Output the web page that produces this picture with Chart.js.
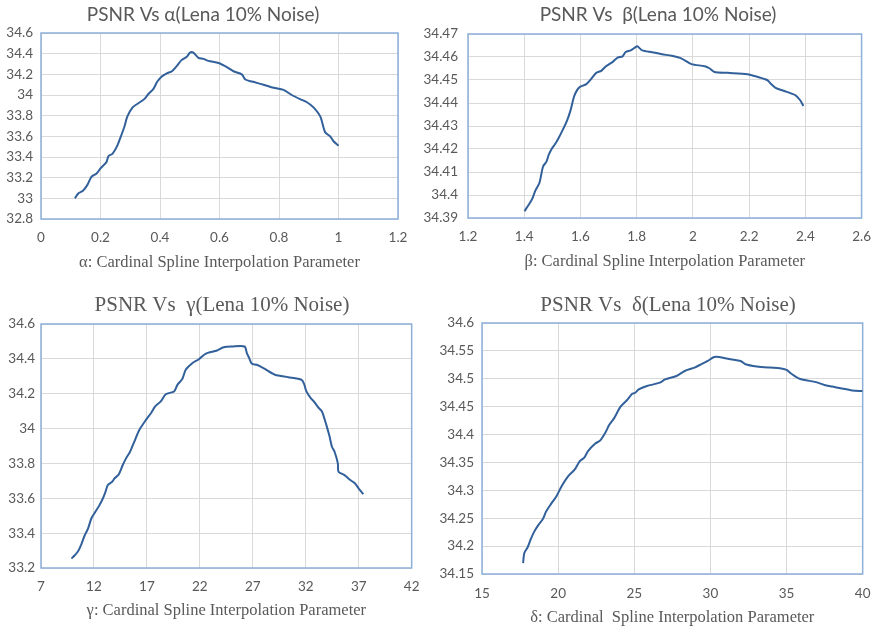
<!DOCTYPE html>
<html>
<head>
<meta charset="utf-8">
<script src="https://cdn.jsdelivr.net/npm/chart.js@4.4.1/dist/chart.umd.min.js"></script>
<style>
  html, body { margin: 0; padding: 0; background: #ffffff; }
  body { width: 882px; height: 633px; position: relative; overflow: hidden; }
  .box { position: absolute; }
</style>
</head>
<body>
<div class="box" style="left:0px;top:0px;width:420px;height:276px"><canvas id="alphaChart"></canvas></div>
<div class="box" style="left:405px;top:0px;width:477px;height:275px"><canvas id="betaChart"></canvas></div>
<div class="box" style="left:0px;top:288px;width:430px;height:336px"><canvas id="gammaChart"></canvas></div>
<div class="box" style="left:436px;top:288px;width:446px;height:343px"><canvas id="deltaChart"></canvas></div>
<script>
// --- data (PSNR, Lena, 10% noise) ---
const alphaValues = [0.114, 0.126, 0.14, 0.156, 0.17, 0.187, 0.2, 0.22, 0.227, 0.24, 0.255, 0.266, 0.28, 0.29, 0.308, 0.327, 0.347, 0.361, 0.378, 0.391, 0.406, 0.423, 0.44, 0.456, 0.473, 0.49, 0.501, 0.512, 0.529, 0.546, 0.563, 0.597, 0.625, 0.647, 0.675, 0.687, 0.709, 0.748, 0.782, 0.815, 0.843, 0.871, 0.894, 0.916, 0.939, 0.955, 0.972, 0.984, 1.0];
const alphaPsnr = [33.0, 33.05, 33.07, 33.13, 33.21, 33.24, 33.29, 33.35, 33.41, 33.43, 33.5, 33.58, 33.69, 33.79, 33.88, 33.92, 33.96, 34.01, 34.06, 34.13, 34.18, 34.21, 34.23, 34.28, 34.34, 34.37, 34.41, 34.41, 34.36, 34.35, 34.33, 34.31, 34.27, 34.23, 34.2, 34.15, 34.13, 34.1, 34.07, 34.05, 34.0, 33.96, 33.93, 33.88, 33.79, 33.64, 33.6, 33.55, 33.51];

const betaValues = [1.401, 1.408, 1.416, 1.428, 1.44, 1.454, 1.467, 1.479, 1.487, 1.499, 1.51, 1.522, 1.537, 1.553, 1.565, 1.577, 1.588, 1.598, 1.621, 1.639, 1.656, 1.674, 1.691, 1.715, 1.732, 1.75, 1.761, 1.779, 1.796, 1.802, 1.82, 1.855, 1.89, 1.925, 1.96, 1.995, 2.042, 2.06, 2.077, 2.124, 2.194, 2.229, 2.264, 2.276, 2.294, 2.323, 2.364, 2.381, 2.393];
const betaPsnr = [34.3929, 34.3943, 34.3958, 34.3982, 34.402, 34.4052, 34.4124, 34.4145, 34.4174, 34.4203, 34.4222, 34.4247, 34.4283, 34.4326, 34.4369, 34.4427, 34.4456, 34.447, 34.4482, 34.4506, 34.4531, 34.454, 34.456, 34.4579, 34.4597, 34.4603, 34.4622, 34.4629, 34.4643, 34.4647, 34.4629, 34.4621, 34.4612, 34.4605, 34.4593, 34.4569, 34.456, 34.455, 34.4535, 34.4531, 34.4525, 34.4514, 34.45, 34.4485, 34.4466, 34.4453, 34.4434, 34.4413, 34.4387];

const gammaValues = [9.88, 10.19, 10.5, 10.81, 11.13, 11.44, 11.75, 12.06, 12.47, 12.84, 13.09, 13.31, 13.72, 13.94, 14.34, 14.72, 15.03, 15.41, 15.81, 16.28, 16.91, 17.38, 17.78, 18.31, 18.78, 19.56, 19.88, 20.34, 20.66, 21.28, 21.91, 22.53, 23.63, 24.25, 25.03, 26.22, 26.44, 26.66, 26.91, 27.38, 28.0, 29.09, 30.34, 31.59, 31.84, 32.06, 32.47, 32.78, 33.16, 33.53, 33.94, 34.25, 34.47, 34.72, 35.03, 35.09, 35.66, 36.13, 36.66, 37.06, 37.44];
const gammaPsnr = [33.254, 33.273, 33.296, 33.336, 33.388, 33.426, 33.484, 33.516, 33.555, 33.599, 33.637, 33.676, 33.695, 33.714, 33.737, 33.791, 33.829, 33.867, 33.925, 33.992, 34.05, 34.088, 34.127, 34.156, 34.197, 34.213, 34.251, 34.284, 34.337, 34.375, 34.398, 34.429, 34.448, 34.467, 34.471, 34.471, 34.433, 34.404, 34.372, 34.366, 34.347, 34.309, 34.295, 34.28, 34.257, 34.213, 34.175, 34.155, 34.123, 34.098, 34.021, 33.954, 33.896, 33.867, 33.8, 33.752, 33.733, 33.708, 33.685, 33.651, 33.624];

const deltaValues = [17.7, 17.78, 18.0, 18.21, 18.43, 18.71, 18.99, 19.21, 19.57, 19.9, 20.22, 20.65, 21.08, 21.41, 21.73, 21.95, 22.44, 22.75, 23.13, 23.35, 23.67, 24.1, 24.53, 24.86, 25.07, 25.29, 25.83, 26.69, 27.02, 27.77, 28.31, 28.96, 29.39, 29.82, 30.25, 30.57, 31.33, 31.98, 32.3, 33.05, 33.92, 34.56, 35.0, 35.32, 35.86, 36.94, 37.48, 38.01, 38.55, 39.31, 40.0];
const deltaPsnr = [34.1697, 34.1876, 34.198, 34.213, 34.226, 34.238, 34.248, 34.262, 34.277, 34.29, 34.307, 34.325, 34.337, 34.352, 34.359, 34.37, 34.384, 34.389, 34.405, 34.417, 34.429, 34.45, 34.462, 34.473, 34.475, 34.481, 34.487, 34.493, 34.499, 34.505, 34.514, 34.52, 34.526, 34.532, 34.539, 34.539, 34.535, 34.532, 34.526, 34.522, 34.52, 34.519, 34.516, 34.509, 34.5, 34.494, 34.489, 34.486, 34.483, 34.479, 34.478];

// axis ranges: [min, max, step]
const alphaAxisX = [0, 1.2, 0.2];
const alphaAxisY = [32.8, 34.6, 0.2];
const betaAxisX = [1.2, 2.6, 0.2];
const betaAxisY = [34.39, 34.47, 0.01];
const gammaAxisX = [7, 42, 5];
const gammaAxisY = [33.2, 34.6, 0.2];
const deltaAxisX = [15, 40, 5];
const deltaAxisY = [34.15, 34.6, 0.05];

const TEXT_GREY = '#595959';
const GRID_GREY = '#d9d9d9';
const LINE_BLUE = '#32609a';
const FRAME_BLUE = '#8db0d9';

// Excel-like "General" number format (no trailing zeros)
const general = (v) => String(Math.round(v * 10000) / 10000);

// blue frame round the plot area
const plotFrame = {
    id: 'plotFrame',
    beforeDatasetsDraw(chart) {
        const { ctx, chartArea: a } = chart;
        ctx.save();
        ctx.strokeStyle = FRAME_BLUE;
        ctx.lineWidth = 1.5;
        ctx.strokeRect(a.left, a.top, a.right - a.left, a.bottom - a.top);
        ctx.restore();
    }
};

// chart title, placed where the original has it (not centred on the canvas)
const headTitle = {
    id: 'headTitle',
    afterDraw(chart, args, opts) {
        const ctx = chart.ctx;
        ctx.save();
        ctx.font = opts.font;
        ctx.fillStyle = TEXT_GREY;
        ctx.textAlign = 'center';
        ctx.textBaseline = 'middle';
        ctx.fillText(opts.text, opts.x, opts.y);
        ctx.restore();
    }
};

function makeChart(id, xs, ys, axisX, axisY, cfg) {
    const points = xs.map((x, i) => ({ x: x, y: ys[i] }));
    return new Chart(document.getElementById(id), {
        type: 'scatter',
        data: {
            datasets: [{
                data: points,
                showLine: true,
                borderColor: LINE_BLUE,
                borderWidth: 2,
                pointRadius: 0,
                tension: 0.25,
                fill: false
            }]
        },
        plugins: [plotFrame, headTitle],
        options: {
            responsive: true,
            maintainAspectRatio: false,
            animation: false,
            layout: { padding: { left: 0, right: cfg.padRight, top: cfg.padTop, bottom: 0 } },
            plugins: {
                legend: { display: false },
                tooltip: { enabled: false },
                title: { display: false },
                headTitle: { text: cfg.title, font: cfg.titleFont, x: cfg.titleX, y: cfg.titleY }
            },
            scales: {
                x: {
                    type: 'linear',
                    min: axisX[0],
                    max: axisX[1],
                    afterFit: (scale) => { scale.height = cfg.xHeight; },
                    grid: { color: GRID_GREY, drawTicks: false },
                    border: { display: false },
                    ticks: {
                        stepSize: axisX[2],
                        color: TEXT_GREY,
                        padding: cfg.xTickPad,
                        maxRotation: 0,
                        font: { family: 'Lato', size: 13.5 },
                        callback: general
                    },
                    title: {
                        display: true,
                        text: cfg.xTitle,
                        color: TEXT_GREY,
                        font: { family: "'Liberation Serif', serif", size: 16.5 },
                        padding: { top: 0, bottom: 3 }
                    }
                },
                y: {
                    type: 'linear',
                    min: axisY[0],
                    max: axisY[1],
                    afterFit: (scale) => { scale.width = cfg.yWidth; },
                    grid: { color: GRID_GREY, drawTicks: false },
                    border: { display: false },
                    ticks: {
                        stepSize: axisY[2],
                        color: TEXT_GREY,
                        padding: cfg.yTickPad,
                        font: { family: 'Lato', size: 13.5 },
                        callback: general
                    }
                }
            }
        }
    });
}

const sansTitle = "19px Lato";
const serifTitle = "21px 'Liberation Serif'";

makeChart('alphaChart', alphaValues, alphaPsnr, alphaAxisX, alphaAxisY, {
    title: 'PSNR Vs \u03b1(Lena 10% Noise)', titleFont: sansTitle, titleX: 203, titleY: 15,
    padTop: 33, padRight: 22, yWidth: 41, xHeight: 57, xTickPad: 11, yTickPad: 8,
    xTitle: '\u03b1: Cardinal Spline Interpolation Parameter'
});
makeChart('betaChart', betaValues, betaPsnr, betaAxisX, betaAxisY, {
    title: 'PSNR Vs  \u03b2(Lena 10% Noise)', titleFont: sansTitle, titleX: 253, titleY: 15,
    padTop: 34, padRight: 15, yWidth: 63, xHeight: 57, xTickPad: 11, yTickPad: 10,
    xTitle: '\u03b2: Cardinal Spline Interpolation Parameter'
});
makeChart('gammaChart', gammaValues, gammaPsnr, gammaAxisX, gammaAxisY, {
    title: 'PSNR Vs  \u03b3(Lena 10% Noise)', titleFont: serifTitle, titleX: 222, titleY: 17,
    padTop: 36, padRight: 16, yWidth: 41, xHeight: 56, xTickPad: 10.5, yTickPad: 6,
    xTitle: '\u03b3: Cardinal Spline Interpolation Parameter'
});
makeChart('deltaChart', deltaValues, deltaPsnr, deltaAxisX, deltaAxisY, {
    title: 'PSNR Vs  \u03b4(Lena 10% Noise)', titleFont: serifTitle, titleX: 232, titleY: 17,
    padTop: 35, padRight: 14, yWidth: 46, xHeight: 57, xTickPad: 11.5, yTickPad: 8,
    xTitle: '\u03b4: Cardinal  Spline Interpolation Parameter'
});
</script>
</body>
</html>
